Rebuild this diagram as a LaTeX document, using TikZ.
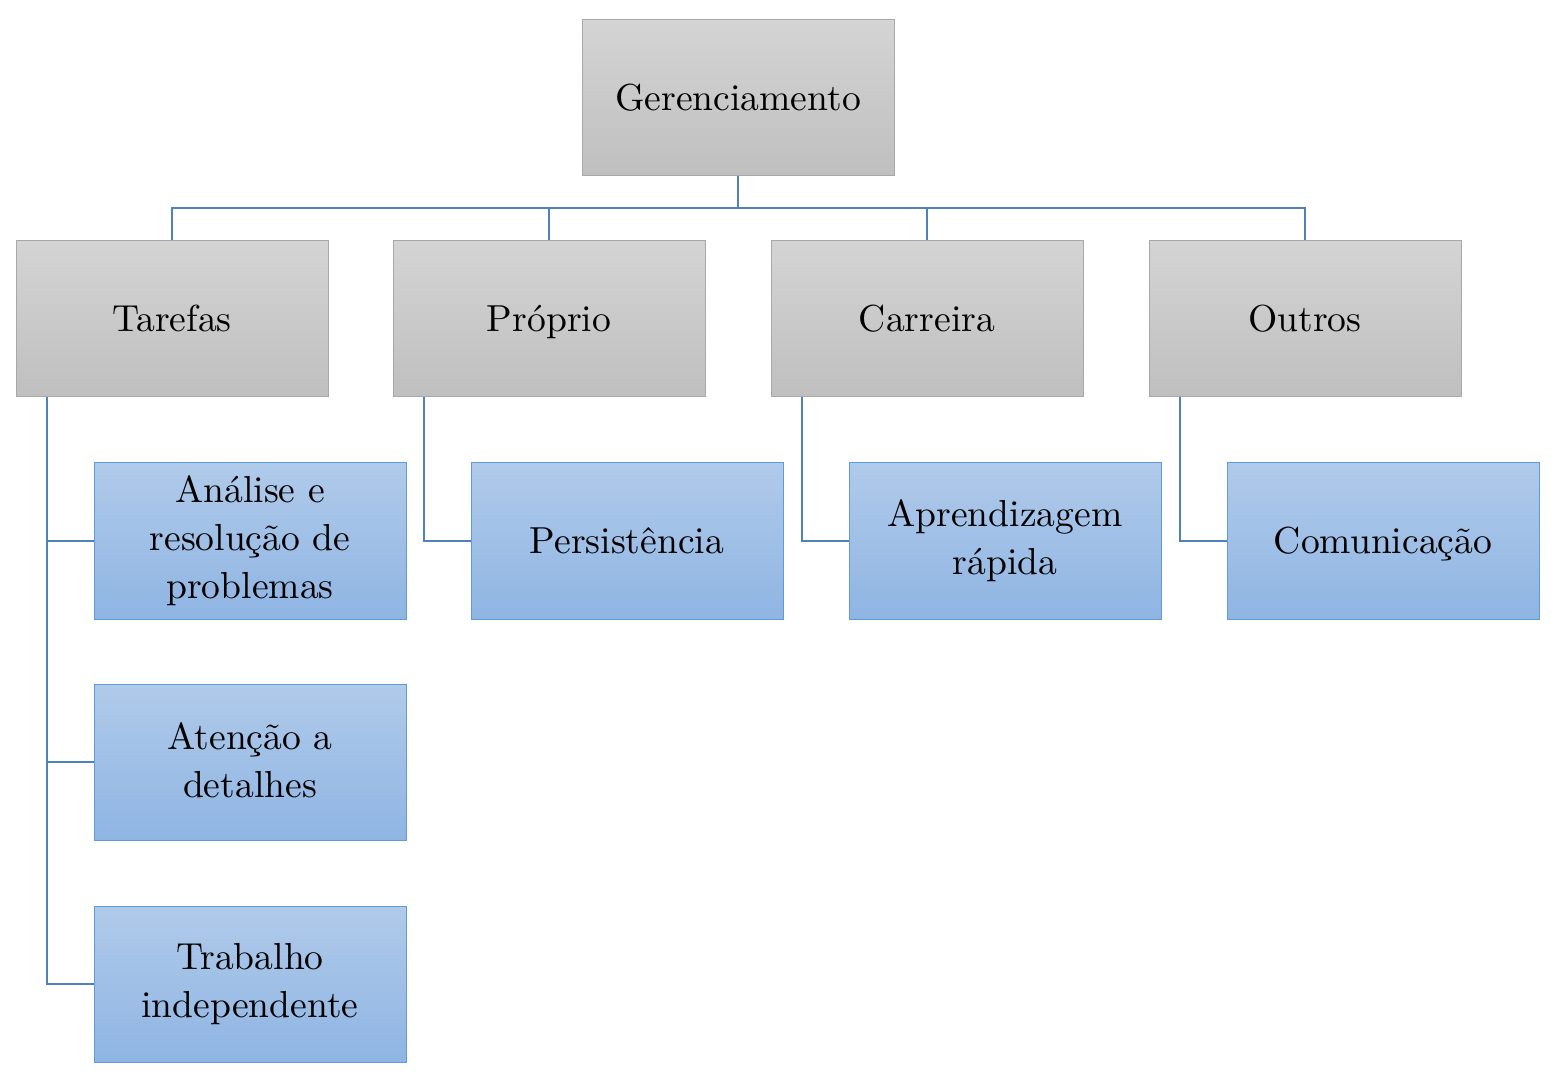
\documentclass[tikz,border=0pt]{standalone}
\font\lmten="[lmroman10-regular.otf]" at 18.8pt
\newcommand{\sstrut}{\rule[-5.7pt]{0pt}{24pt}}
\newcommand{\mstrut}{\rule[-2.3pt]{0pt}{24pt}}
\definecolor{grayTop}{RGB}{212,212,212}
\definecolor{grayBot}{RGB}{191,191,191}
\definecolor{grayLine}{RGB}{168,168,168}
\definecolor{blueTop}{RGB}{176,202,234}
\definecolor{blueBot}{RGB}{143,181,227}
\definecolor{blueLine}{RGB}{95,155,215}
\definecolor{conn}{RGB}{79,129,189}
\tikzset{
  box/.style={rectangle, minimum width=156pt, minimum height=78pt, inner sep=0pt,
    align=center, font=\fontsize{18.8}{24}\selectfont\lmten, line width=0.5pt},
  oneline/.style={execute at begin node={\sstrut}, execute at end node={\sstrut}},
  multiline/.style={execute at begin node={\mstrut}, execute at end node={\mstrut}},
  graybox/.style={box, draw=grayLine, top color=grayTop, bottom color=grayBot},
  bluebox/.style={box, draw=blueLine, top color=blueTop, bottom color=blueBot},
  link/.style={draw=conn, line width=1pt}
}
\begin{document}
\begin{tikzpicture}[x=0.5pt,y=-0.5pt]
\useasboundingbox (0,0) rectangle (1558,1080);
\node[graybox,oneline] (root) at (738,98) {Gerenciamento};
\node[graybox,oneline] (tar) at (172,319) {Tarefas};
\node[graybox,oneline] (pro) at (549,319) {Próprio};
\node[graybox,oneline] (car) at (927,319) {Carreira};
\node[graybox,oneline] (out) at (1305,319) {Outros};
\node[bluebox,multiline] (t1) at (250,541) {Análise e\\resolução de\\problemas};
\node[bluebox,multiline] (t2) at (250,762) {Atenção a\\detalhes};
\node[bluebox,multiline] (t3) at (250,984) {Trabalho\\independente};
\node[bluebox,oneline] (p1) at (627,541) {Persistência};
\node[bluebox,multiline] (c1) at (1005,541) {Aprendizagem\\rápida};
\node[bluebox,oneline] (o1) at (1383,541) {Comunicação};
\coordinate (hub) at (738,208);
\draw[link] (root.south) -- (hub);
\foreach \n in {tar,pro,car,out} {
  \draw[link] (hub) -| (\n.north);
}
\foreach \n/\c in {tar/t1,tar/t2,tar/t3,pro/p1,car/c1,out/o1} {
  \draw[link] ([xshift=15.5pt]\n.south west) |- (\c.west);
}
\end{tikzpicture}
\end{document}
